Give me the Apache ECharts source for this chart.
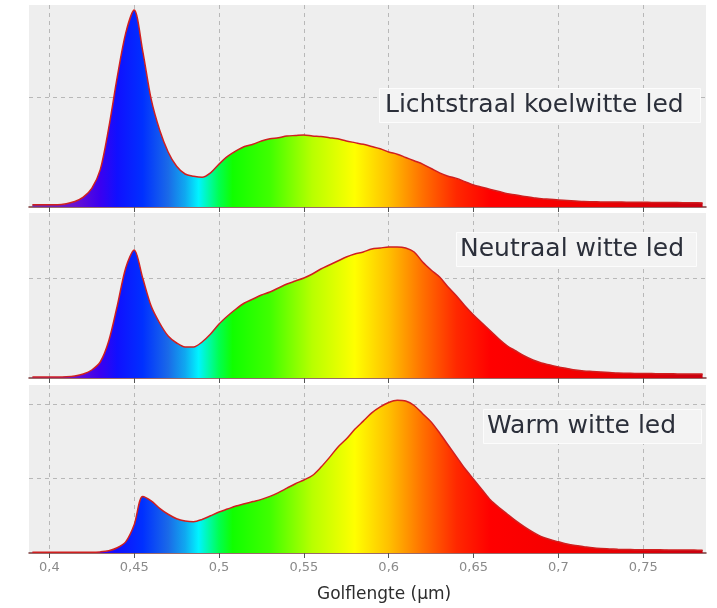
<!DOCTYPE html>
<html>
<head>
<meta charset="utf-8">
<script src="https://cdn.jsdelivr.net/npm/echarts@6/dist/echarts.min.js"></script>
<style>
  html, body { margin: 0; padding: 0; background: #fff; }
  #main { width: 717px; height: 608px; }
</style>
</head>
<body>
<div id="main"></div>
<script>
// golflengte (µm), stap 0.005
var wavelengths = [
  0.390, 0.395, 0.400, 0.405, 0.410, 0.415, 0.420, 0.425, 0.430, 0.435,
  0.440, 0.445, 0.450, 0.455, 0.460, 0.465, 0.470, 0.475, 0.480, 0.485,
  0.490, 0.495, 0.500, 0.505, 0.510, 0.515, 0.520, 0.525, 0.530, 0.535,
  0.540, 0.545, 0.550, 0.555, 0.560, 0.565, 0.570, 0.575, 0.580, 0.585,
  0.590, 0.595, 0.600, 0.605, 0.610, 0.615, 0.620, 0.625, 0.630, 0.635,
  0.640, 0.645, 0.650, 0.655, 0.660, 0.665, 0.670, 0.675, 0.680, 0.685,
  0.690, 0.695, 0.700, 0.705, 0.710, 0.715, 0.720, 0.725, 0.730, 0.735,
  0.740, 0.745, 0.750, 0.755, 0.760, 0.765, 0.770, 0.775, 0.780, 0.785
];

// relatieve intensiteit per led (1 = eerste horizontale rasterlijn)
var koelwit = [
  0.02, 0.02, 0.02, 0.02, 0.03, 0.05, 0.09, 0.17, 0.34, 0.72,
  1.18, 1.58, 1.79, 1.42, 0.98, 0.70, 0.50, 0.37, 0.30, 0.28,
  0.27, 0.31, 0.39, 0.46, 0.51, 0.55, 0.57, 0.60, 0.62, 0.63,
  0.645, 0.65, 0.655, 0.645, 0.64, 0.63, 0.62, 0.60, 0.585, 0.57,
  0.55, 0.53, 0.50, 0.48, 0.45, 0.42, 0.39, 0.35, 0.31, 0.28,
  0.26, 0.23, 0.20, 0.18, 0.16, 0.14, 0.12, 0.11, 0.095, 0.085,
  0.075, 0.07, 0.064, 0.06, 0.055, 0.05, 0.048, 0.046, 0.045, 0.045,
  0.044, 0.044, 0.043, 0.042, 0.041, 0.04, 0.04, 0.039, 0.038, 0.037
];
var neutraal = [
  0.01, 0.01, 0.01, 0.01, 0.012, 0.02, 0.04, 0.08, 0.16, 0.37,
  0.72, 1.10, 1.28, 1.00, 0.72, 0.55, 0.42, 0.35, 0.31, 0.31,
  0.36, 0.44, 0.54, 0.62, 0.69, 0.75, 0.79, 0.83, 0.86, 0.90,
  0.94, 0.97, 1.00, 1.04, 1.09, 1.13, 1.17, 1.21, 1.24, 1.26,
  1.29, 1.30, 1.31, 1.31, 1.30, 1.26, 1.16, 1.08, 1.01, 0.91,
  0.82, 0.72, 0.63, 0.55, 0.47, 0.39, 0.32, 0.27, 0.22, 0.18,
  0.15, 0.13, 0.11, 0.095, 0.08, 0.07, 0.065, 0.06, 0.055, 0.05,
  0.048, 0.046, 0.045, 0.044, 0.043, 0.042, 0.041, 0.04, 0.04, 0.039
];
var warm = [
  0.01, 0.01, 0.01, 0.01, 0.01, 0.01, 0.01, 0.01, 0.015, 0.03,
  0.07, 0.15, 0.38, 0.76, 0.70, 0.60, 0.52, 0.46, 0.43, 0.42,
  0.45, 0.50, 0.55, 0.59, 0.63, 0.66, 0.69, 0.72, 0.76, 0.81,
  0.87, 0.93, 0.98, 1.04, 1.15, 1.28, 1.42, 1.53, 1.66, 1.77,
  1.88, 1.96, 2.02, 2.05, 2.04, 1.98, 1.87, 1.76, 1.61, 1.45,
  1.29, 1.13, 0.99, 0.85, 0.71, 0.61, 0.52, 0.43, 0.35, 0.28,
  0.22, 0.18, 0.15, 0.12, 0.10, 0.085, 0.07, 0.06, 0.055, 0.05,
  0.047, 0.045, 0.044, 0.043, 0.042, 0.041, 0.04, 0.04, 0.039, 0.038
];

var tickValues = [0.4, 0.45, 0.5, 0.55, 0.6, 0.65, 0.7, 0.75];
var tickLabels = ['0,4', '0,45', '0,5', '0,55', '0,6', '0,65', '0,7', '0,75'];
var panelNames = ['Lichtstraal koelwitte led', 'Neutraal witte led', 'Warm witte led'];
var panelSeries = [koelwit, neutraal, warm];

// kleur van het spectrum per golflengte
var spectrumStops = [
  [0.390, '#7030a0'], [0.415, '#6a10d0'], [0.430, '#3a00f0'], [0.440, '#1010ff'],
  [0.455, '#0030ff'], [0.470, '#1a6ae8'], [0.480, '#10a8f0'], [0.488, '#00f4ff'],
  [0.500, '#00ff50'], [0.508, '#10ff00'], [0.530, '#40ff00'], [0.555, '#b8ff00'],
  [0.580, '#ffff00'], [0.600, '#ffc000'], [0.620, '#ff7000'], [0.640, '#ff2800'],
  [0.660, '#ff0000'], [0.720, '#f00000'], [0.785, '#c80010']
];

var lMin = wavelengths[0];
var lMax = wavelengths[wavelengths.length - 1];
var spectrumFill = {
  type: 'linear', x: 0, y: 0, x2: 1, y2: 0,
  colorStops: spectrumStops.map(function (s) {
    return { offset: (s[0] - lMin) / (lMax - lMin), color: s[1] };
  })
};

var panels = [
  { top: 5, height: 202, yMax: 1.836, box: { left: 379, top: 88, padding: [5, 17, 5, 6] } },
  { top: 213, height: 165, yMax: 1.65, box: { left: 456, top: 232, padding: [5, 13, 5, 4] } },
  { top: 385, height: 168, yMax: 2.255, box: { left: 483, top: 409, padding: [5, 26, 5, 4] } }
];

var gridLine = { color: '#b8b8b8', type: [4, 4], width: 1 };

var grids = [], xAxes = [], yAxes = [], series = [], titles = [];
panels.forEach(function (p, i) {
  grids.push({
    left: 29, right: 11, top: p.top, height: p.height,
    show: true, backgroundColor: '#eeeeee', borderWidth: 0
  });
  xAxes.push({
    type: 'value', gridIndex: i, min: 0.388, max: 0.787,
    axisLine: { show: true, onZero: false, lineStyle: { color: '#7a3a3a', width: 1.5 } },
    axisTick: { show: true, length: 5, customValues: tickValues, lineStyle: { color: '#555' } },
    axisLabel: {
      show: i === 2, customValues: tickValues, margin: 8,
      color: '#8a8a8a', fontSize: 13, fontFamily: 'DejaVu Sans',
      formatter: function (v) {
        var k = tickValues.indexOf(Math.round(v * 100) / 100);
        return k >= 0 ? tickLabels[k] : '';
      }
    },
    splitLine: { show: true, lineStyle: gridLine }
  });
  yAxes.push({
    type: 'value', gridIndex: i, min: 0, max: p.yMax, interval: 1,
    axisLine: { show: false }, axisTick: { show: false }, axisLabel: { show: false },
    splitLine: { show: true, showMinLine: false, showMaxLine: false, lineStyle: gridLine }
  });
  series.push({
    type: 'line', xAxisIndex: i, yAxisIndex: i,
    data: wavelengths.map(function (w, j) { return [w, panelSeries[i][j]]; }),
    showSymbol: false, smooth: 0.3, silent: true,
    lineStyle: { color: '#d01f1f', width: 1.5 },
    areaStyle: { color: spectrumFill, opacity: 1 }
  });
  titles.push({
    text: panelNames[i], left: p.box.left, top: p.box.top, padding: p.box.padding,
    backgroundColor: '#f3f3f3', borderColor: '#fcfcfc', borderWidth: 1,
    textStyle: { fontFamily: 'DejaVu Sans', fontSize: 25, fontWeight: 'normal', color: '#2b2f3a' }
  });
});

titles.push({
  text: 'Golflengte (µm)', left: 312, top: 581,
  textStyle: { fontFamily: 'DejaVu Sans', fontSize: 17, fontWeight: 'normal', color: '#2d2d2d' }
});

var chart = echarts.init(document.getElementById('main'));
chart.setOption({
  animation: false,
  title: titles,
  grid: grids,
  xAxis: xAxes,
  yAxis: yAxes,
  series: series
});
</script>
</body>
</html>
